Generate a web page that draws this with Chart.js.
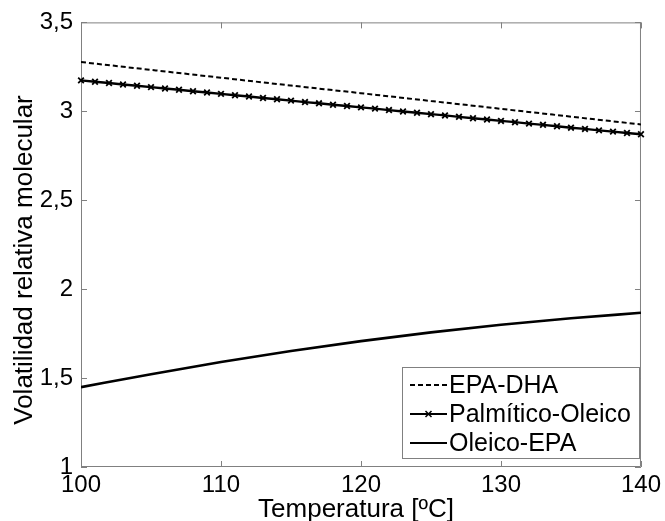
<!DOCTYPE html>
<html>
<head>
<meta charset="utf-8">
<script src="https://cdn.jsdelivr.net/npm/chart.js@4/dist/chart.umd.min.js"></script>
<style>
html,body{margin:0;padding:0;background:#fff;}
#wrap{width:665px;height:521px;}
</style>
</head>
<body>
<div id="wrap"><canvas id="c" width="665" height="521"></canvas></div>
<script>
const temps = [100,101,102,103,104,105,106,107,108,109,110,111,112,113,114,115,116,117,118,119,120,121,122,123,124,125,126,127,128,129,130,131,132,133,134,135,136,137,138,139,140];
const tempsCoarse = [100,105,110,115,120,125,130,135,140];
const epaDha = [3.277,3.233,3.189,3.145,3.102,3.058,3.014,2.970,2.926];
const palmiticoOleico = [3.174,3.166,3.159,3.151,3.144,3.136,3.128,3.121,3.113,3.106,3.098,3.090,3.083,3.075,3.068,3.060,3.052,3.045,3.037,3.030,3.022,3.015,3.007,2.999,2.992,2.984,2.977,2.969,2.961,2.954,2.946,2.939,2.931,2.924,2.916,2.908,2.901,2.893,2.886,2.878,2.871];
const oleicoEpa = [1.449,1.522,1.590,1.652,1.708,1.757,1.800,1.836,1.867];
const seriesNames = ['EPA-DHA','Palmítico-Oleico','Oleico-EPA'];
const xTicks = [100,110,120,130,140];
const yTicks = [1,1.5,2,2.5,3,3.5];
const xTitle = 'Temperatura [ºC]';
const yTitle = 'Volatilidad relativa molecular';

const FONT = '"Liberation Sans", Arial, sans-serif';
const zip = (xs, ys) => xs.map((x, i) => ({x: x, y: ys[i]}));

const framePlugin = {
  id: 'frame',
  beforeDatasetsDraw(chart) {
    const {ctx, chartArea: a, scales} = chart;
    ctx.save();
    ctx.strokeStyle = '#808080';
    ctx.lineWidth = 1;
    ctx.beginPath();
    ctx.rect(a.left + 0.5, a.top + 0.5, a.right - a.left - 1, a.bottom - a.top - 1);
    const tl = 6;
    xTicks.forEach(v => {
      const px = Math.round(scales.x.getPixelForValue(v)) + 0.5;
      ctx.moveTo(px, a.bottom); ctx.lineTo(px, a.bottom - tl);
      ctx.moveTo(px, a.top); ctx.lineTo(px, a.top + tl);
    });
    yTicks.forEach(v => {
      const py = Math.round(scales.y.getPixelForValue(v)) + 0.5;
      ctx.moveTo(a.left, py); ctx.lineTo(a.left + tl, py);
      ctx.moveTo(a.right, py); ctx.lineTo(a.right - tl, py);
    });
    ctx.stroke();
    ctx.restore();
  },
  afterDraw(chart) {
    const {ctx, chartArea: a} = chart;
    ctx.save();
    // axis titles
    ctx.fillStyle = '#000';
    ctx.font = '26px ' + FONT;
    ctx.textAlign = 'center';
    ctx.textBaseline = 'middle';
    ctx.fillText(xTitle, 356, 510);
    ctx.save();
    ctx.translate(25, 260);
    ctx.rotate(-Math.PI / 2);
    ctx.fillText(yTitle, 0, 0);
    ctx.restore();
    // legend
    const bx = 402, by = 367, bw = 237, bh = 91;
    ctx.fillStyle = '#fff';
    ctx.fillRect(bx, by, bw, bh);
    ctx.strokeStyle = '#808080';
    ctx.lineWidth = 1;
    ctx.strokeRect(bx + 0.5, by + 0.5, bw, bh);
    const rows = [385, 414, 443];
    chart.data.datasets.forEach((ds, i) => {
      const y = rows[i];
      ctx.strokeStyle = '#000';
      ctx.lineWidth = 2;
      ctx.setLineDash(ds.borderDash || []);
      ctx.beginPath();
      ctx.moveTo(410, y); ctx.lineTo(447, y);
      ctx.stroke();
      ctx.setLineDash([]);
      if (ds.pointRadius > 0) {
        ctx.lineWidth = 1.5;
        const r = 3;
        ctx.beginPath();
        ctx.moveTo(428.5 - r, y - r); ctx.lineTo(428.5 + r, y + r);
        ctx.moveTo(428.5 - r, y + r); ctx.lineTo(428.5 + r, y - r);
        ctx.stroke();
      }
      ctx.fillStyle = '#000';
      ctx.font = '25px ' + FONT;
      ctx.textAlign = 'left';
      ctx.textBaseline = 'middle';
      ctx.fillText(ds.label, 449, y + 1);
    });
    ctx.restore();
  }
};

new Chart(document.getElementById('c'), {
  type: 'line',
  data: {
    datasets: [
      {label: seriesNames[0], data: zip(tempsCoarse, epaDha), borderColor: '#000', borderWidth: 2, borderDash: [5, 3], pointRadius: 0, cubicInterpolationMode: 'monotone'},
      {label: seriesNames[1], data: zip(temps, palmiticoOleico), borderColor: '#000', borderWidth: 2.4, pointStyle: 'crossRot', pointRadius: 4, pointBorderWidth: 1.8, pointBorderColor: '#000', clip: 8},
      {label: seriesNames[2], data: zip(tempsCoarse, oleicoEpa), borderColor: '#000', borderWidth: 2.6, pointRadius: 0, cubicInterpolationMode: 'monotone'}
    ]
  },
  options: {
    responsive: false,
    animation: false,
    devicePixelRatio: 1,
    layout: {padding: {top: 22, right: 21, left: 0, bottom: 0}},
    plugins: {legend: {display: false}, tooltip: {enabled: false}},
    scales: {
      x: {
        type: 'linear', min: 100, max: 140,
        afterFit: s => { s.height = 54; },
        afterBuildTicks: s => { s.ticks = xTicks.map(v => ({value: v})); },
        grid: {display: false, drawTicks: false},
        border: {display: false},
        ticks: {color: '#000', font: {family: FONT, size: 24}, padding: 4, maxRotation: 0}
      },
      y: {
        type: 'linear', min: 1, max: 3.5,
        afterFit: s => { s.width = 81; },
        afterBuildTicks: s => { s.ticks = yTicks.map(v => ({value: v})); },
        grid: {display: false, drawTicks: false},
        border: {display: false},
        ticks: {color: '#000', font: {family: FONT, size: 24}, padding: 8,
          callback: v => String(v).replace('.', ',')}
      }
    }
  },
  plugins: [framePlugin]
});
</script>
</body>
</html>
